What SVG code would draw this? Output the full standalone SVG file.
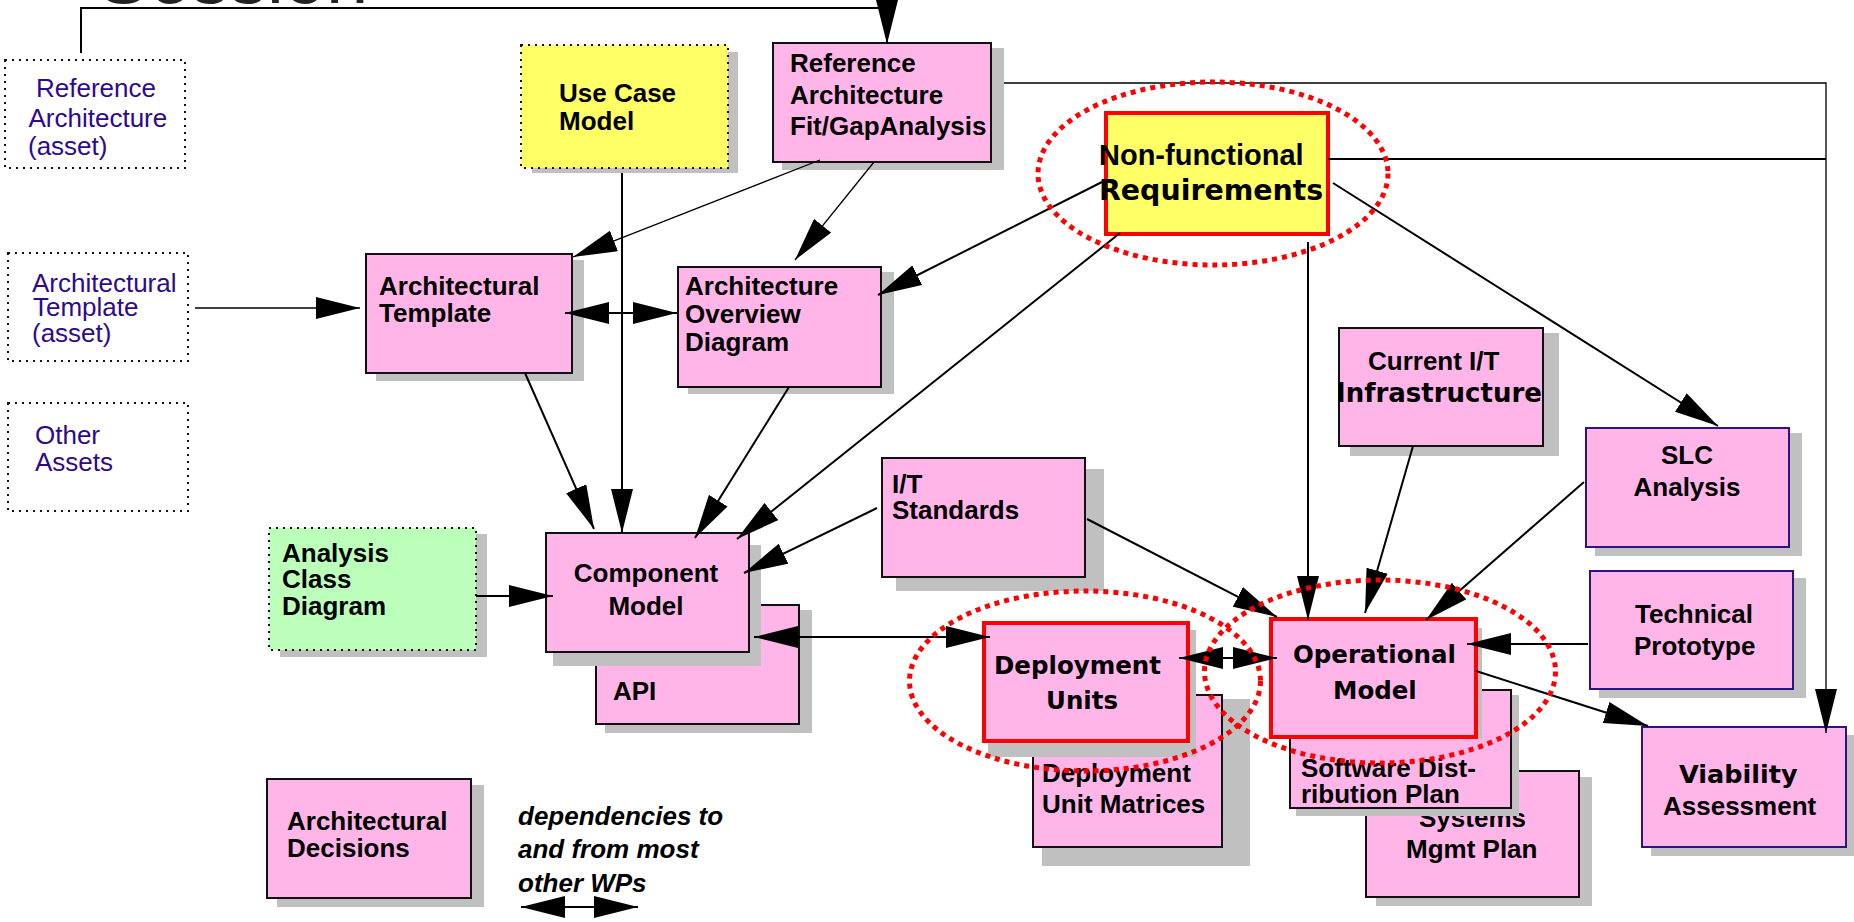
<svg xmlns="http://www.w3.org/2000/svg" width="1854" height="922" viewBox="0 0 1854 922">
  <style>
    .sh { fill: #C0C0C0; }
    .pk { fill: #FFB5E8; stroke: #111; stroke-width: 2; }
    .yl { fill: #FFFF66; }
    .gr { fill: #BBFFBB; }
    .dot { stroke: #111; stroke-width: 2; stroke-dasharray: 2 5; }
    .asset { fill: none; stroke: #111; stroke-width: 2; stroke-dasharray: 2 5; }
    .red { stroke: #FF0000; stroke-width: 4; }
    .ind { stroke: #2A1480; }
    .t { font-family: "Liberation Sans", Arial, sans-serif; font-weight: bold; font-size: 26px; fill: #000; }
    .w { font-family: "DejaVu Sans", Verdana, sans-serif; font-weight: bold; font-size: 24.5px; fill: #000; }
    .a { font-family: "Liberation Sans", Arial, sans-serif; font-size: 26px; fill: #2E0A8C; }
    .it { font-family: "Liberation Sans", Arial, sans-serif; font-weight: bold; font-style: italic; font-size: 26px; fill: #000; }
    .c { text-anchor: middle; }
    .ln { fill: none; stroke: #000; stroke-width: 2; }
    .thin { fill: none; stroke: #000; stroke-width: 1.3; }
    .ring { fill: none; stroke: #FF0000; stroke-width: 5; stroke-dasharray: 5 5; }
  </style>
  <defs>
    <marker id="ah" viewBox="0 0 44 22" markerWidth="44" markerHeight="22" refX="44" refY="11" orient="auto-start-reverse" markerUnits="userSpaceOnUse">
      <path d="M0,0 L44,11 L0,22 Z" fill="#000"/>
    </marker>
  </defs>

  <!-- heading, mostly off the top edge -->
  <text x="98" y="3" font-family="Liberation Sans, Arial, sans-serif" font-size="76" fill="#222">Session</text>

  <!-- asset boxes -->
  <g id="asset-reference-architecture">
    <rect class="asset" x="5" y="60" width="180" height="108"/>
    <text class="a" x="36" y="97">Reference</text>
    <text class="a" x="28.5" y="127">Architecture</text>
    <text class="a" x="28" y="155">(asset)</text>
  </g>
  <g id="asset-architectural-template">
    <rect class="asset" x="8" y="253" width="180" height="108"/>
    <text class="a" x="32" y="292">Architectural</text>
    <text class="a" x="33" y="316">Template</text>
    <text class="a" x="32" y="342">(asset)</text>
  </g>
  <g id="asset-other">
    <rect class="asset" x="8" y="403" width="180" height="108"/>
    <text class="a" x="35" y="444">Other</text>
    <text class="a" x="35" y="471">Assets</text>
  </g>

  <!-- work products -->
  <g id="use-case-model">
    <rect class="sh" x="532" y="52" width="206" height="121"/>
    <rect class="yl dot" x="521" y="45" width="207" height="123"/>
    <text class="t" x="559" y="102">Use Case</text>
    <text class="t" x="559" y="130">Model</text>
  </g>
  <g id="reference-architecture-fit-gap">
    <rect class="sh" x="782" y="48" width="222" height="122"/>
    <rect class="pk" x="773" y="43" width="218" height="119"/>
    <text class="t" x="790" y="72">Reference</text>
    <text class="t" x="790" y="104">Architecture</text>
    <text class="t" x="790" y="135">Fit/GapAnalysis</text>
  </g>
  <g id="non-functional-requirements">
    <rect class="yl red" x="1106" y="113" width="222" height="121"/>
    <text class="t" x="1099" y="165" style="font-size:29px">Non-functional</text>
    <text class="w" x="1099" y="200" style="font-size:28.4px">Requirements</text>
  </g>
  <g id="architectural-template">
    <rect class="sh" x="376" y="260" width="208" height="121"/>
    <rect class="pk" x="366" y="254" width="206" height="119"/>
    <text class="t" x="379" y="295">Architectural</text>
    <text class="t" x="379" y="322">Template</text>
  </g>
  <g id="architecture-overview-diagram">
    <rect class="sh" x="688" y="272" width="206" height="122"/>
    <rect class="pk" x="678" y="267" width="203" height="120"/>
    <text class="t" x="685" y="295">Architecture</text>
    <text class="t" x="685" y="323">Overview</text>
    <text class="t" x="685" y="351">Diagram</text>
  </g>
  <g id="analysis-class-diagram">
    <rect class="sh" x="280" y="534" width="207" height="123"/>
    <rect class="gr dot" x="269" y="528" width="207" height="122"/>
    <text class="t" x="282" y="562">Analysis</text>
    <text class="t" x="282" y="588">Class</text>
    <text class="t" x="282" y="615">Diagram</text>
  </g>
  <g id="api">
    <rect class="sh" x="605" y="610" width="207" height="123"/>
    <rect class="pk" x="596" y="605" width="203" height="119"/>
    <text class="t" x="613" y="700">API</text>
  </g>
  <g id="component-model">
    <rect class="sh" x="553" y="545" width="208" height="121"/>
    <rect class="pk" x="546" y="533" width="203" height="119"/>
    <text class="t c" x="646" y="582">Component</text>
    <text class="t c" x="646" y="615">Model</text>
  </g>
  <g id="it-standards">
    <rect class="sh" x="896" y="469" width="208" height="122"/>
    <rect class="pk" x="882" y="458" width="203" height="119"/>
    <text class="t" x="892" y="493">I/T</text>
    <text class="t" x="892" y="519">Standards</text>
  </g>
  <g id="current-it-infrastructure">
    <rect class="sh" x="1350" y="333" width="209" height="123"/>
    <rect class="pk" x="1339" y="328" width="204" height="118"/>
    <text class="t" x="1368" y="370">Current I/T</text>
    <text class="w" x="1336" y="402" style="font-size:26px">Infrastructure</text>
  </g>
  <g id="slc-analysis">
    <rect class="sh" x="1595" y="433" width="207" height="123"/>
    <rect class="pk ind" x="1586" y="428" width="203" height="119"/>
    <text class="t c" x="1687" y="464">SLC</text>
    <text class="t c" x="1687" y="496">Analysis</text>
  </g>
  <g id="technical-prototype">
    <rect class="sh" x="1599" y="578" width="207" height="120"/>
    <rect class="pk ind" x="1590" y="571" width="203" height="118"/>
    <text class="t" x="1635" y="623">Technical</text>
    <text class="t" x="1634" y="655">Prototype</text>
  </g>
  <g id="viability-assessment">
    <rect class="sh" x="1651" y="735" width="203" height="121"/>
    <rect class="pk ind" x="1642" y="727" width="204" height="120"/>
    <text class="w" x="1679" y="783" style="font-size:25.5px">Viability</text>
    <text class="t" x="1663" y="815">Assessment</text>
  </g>
  <g id="systems-mgmt-plan">
    <rect class="sh" x="1376" y="777" width="216" height="129"/>
    <rect class="pk" x="1366" y="771" width="213" height="126"/>
    <text class="t" x="1419" y="827">Systems</text>
    <text class="t" x="1406" y="858">Mgmt Plan</text>
  </g>
  <g id="software-distribution-plan">
    <rect class="sh" x="1296" y="695" width="223" height="121"/>
    <rect class="pk" x="1290" y="690" width="221" height="118"/>
    <text class="t" x="1301" y="777">Software Dist-</text>
    <text class="t" x="1301" y="803">ribution Plan</text>
  </g>
  <g id="operational-model">
    <rect class="sh" x="1279" y="628" width="203" height="111"/>
    <rect class="pk red" x="1271" y="619" width="205" height="118"/>
    <text class="w" x="1293" y="663">Operational</text>
    <text class="w" x="1333" y="699">Model</text>
  </g>
  <g id="deployment-unit-matrices">
    <rect class="sh" x="1042" y="699" width="208" height="167"/>
    <rect class="pk" x="1033" y="695" width="189" height="152"/>
    <text class="t" x="1042" y="782">Deployment</text>
    <text class="t" x="1042" y="813">Unit Matrices</text>
  </g>
  <g id="deployment-units">
    <rect class="sh" x="988" y="630" width="208" height="127"/>
    <rect class="pk red" x="984" y="623" width="204" height="118"/>
    <text class="w" x="994" y="674">Deployment</text>
    <text class="w" x="1046" y="709">Units</text>
  </g>
  <g id="architectural-decisions">
    <rect class="sh" x="277" y="785" width="207" height="122"/>
    <rect class="pk" x="267" y="779" width="204" height="119"/>
    <text class="t" x="287" y="830">Architectural</text>
    <text class="t" x="287" y="857">Decisions</text>
  </g>

  <!-- legend -->
  <g id="legend">
    <text class="it" x="518" y="825">dependencies to</text>
    <text class="it" x="518" y="858">and from most</text>
    <text class="it" x="518" y="892">other WPs</text>
    <line class="ln" x1="521" y1="907" x2="638" y2="907" marker-start="url(#ah)" marker-end="url(#ah)"/>
  </g>

  <!-- dependencies -->
  <g id="connectors">
    <polyline class="ln" points="81,53 81,8 887,8 887,44" marker-end="url(#ah)"/>
    <polyline class="thin" points="1004,83 1826,83 1826,733" marker-end="url(#ah)"/>
    <line class="ln" x1="1328" y1="159" x2="1826" y2="159"/>
    <line class="thin" x1="820" y1="160" x2="573" y2="257" marker-end="url(#ah)"/>
    <line class="thin" x1="874" y1="162" x2="795" y2="260" marker-end="url(#ah)"/>
    <line class="ln" x1="622" y1="173" x2="622" y2="533" marker-end="url(#ah)"/>
    <line class="thin" x1="195" y1="308" x2="360" y2="308" marker-end="url(#ah)"/>
    <line class="ln" x1="565" y1="313" x2="677" y2="313" marker-start="url(#ah)" marker-end="url(#ah)"/>
    <line class="ln" x1="1102" y1="182" x2="878" y2="295" marker-end="url(#ah)"/>
    <line class="ln" x1="525" y1="373" x2="594" y2="529" marker-end="url(#ah)"/>
    <line class="ln" x1="789" y1="387" x2="695" y2="538" marker-end="url(#ah)"/>
    <line class="ln" x1="1120" y1="233" x2="737" y2="539" marker-end="url(#ah)"/>
    <line class="ln" x1="877" y1="508" x2="744" y2="573" marker-end="url(#ah)"/>
    <line class="ln" x1="476" y1="596" x2="553" y2="596" marker-end="url(#ah)"/>
    <line class="ln" x1="754" y1="637" x2="990" y2="637" marker-start="url(#ah)" marker-end="url(#ah)"/>
    <line class="ln" x1="1087" y1="519" x2="1277" y2="617" marker-end="url(#ah)"/>
    <line class="ln" x1="1308" y1="242" x2="1308" y2="620" marker-end="url(#ah)"/>
    <line class="ln" x1="1413" y1="446" x2="1365" y2="613" marker-end="url(#ah)"/>
    <line class="ln" x1="1584" y1="482" x2="1426" y2="620" marker-end="url(#ah)"/>
    <line class="ln" x1="1333" y1="183" x2="1718" y2="426" marker-end="url(#ah)"/>
    <line class="ln" x1="1588" y1="644" x2="1467" y2="644" marker-end="url(#ah)"/>
    <line class="ln" x1="1179" y1="658" x2="1277" y2="658" marker-start="url(#ah)" marker-end="url(#ah)"/>
    <line class="ln" x1="1476" y1="671" x2="1648" y2="726" marker-end="url(#ah)"/>
  </g>

  <!-- highlight rings -->
  <g id="highlights">
    <ellipse class="ring" cx="1213" cy="173.5" rx="175" ry="91.5"/>
    <ellipse class="ring" cx="1085" cy="681" rx="175.5" ry="90"/>
    <ellipse class="ring" cx="1380" cy="671.5" rx="175.5" ry="91.5"/>
  </g>
</svg>
